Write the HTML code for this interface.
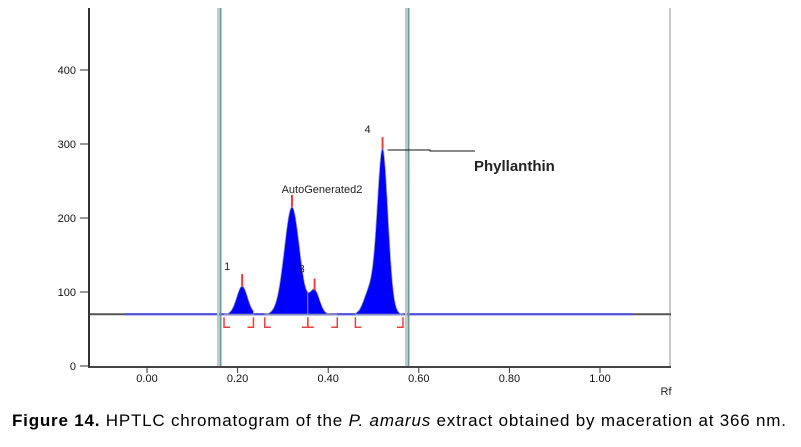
<!DOCTYPE html>
<html><head><meta charset="utf-8"><style>
body{margin:0;background:#fff;width:801px;height:442px;overflow:hidden;font-family:"Liberation Sans",sans-serif}
svg text{font-family:"Liberation Sans",sans-serif}
</style></head><body>
<svg id="c" width="801" height="442"></svg>
<script>
const peakRf=[0.21,0.32,0.37,0.52,0.49];
const peakHeight=[108,215,102,293,100];
const peakSigma=[0.012,0.017,0.011,0.012,0.012];
const peakLabels=["1","AutoGenerated2","3","4"];
const baselineValue=70;
const yTicks=[0,100,200,300,400];
const xTicks=[0,0.2,0.4,0.6,0.8,1.0];
const xTickLabels=["0.00","0.20","0.40","0.60","0.80","1.00"];
const markerRf=[0.16,0.575];
const peakStart=[0.17,0.26,0.355,0.46];
const peakEnd=[0.235,0.355,0.42,0.565];

const X=v=>147+v*453, Y=v=>366-v*0.74;
const svg=document.getElementById('c');const NS="http://www.w3.org/2000/svg";
function mk(t,a,txt){const e=document.createElementNS(NS,t);for(const k in a)e.setAttribute(k,a[k]);if(txt!=null)e.textContent=txt;svg.appendChild(e);return e;}

let e;
e=mk('line',{x1:670,y1:8,x2:670,y2:367,stroke:'#c8c8c8','stroke-width':2});


e=mk('line',{x1:89,y1:Y(baselineValue),x2:671,y2:Y(baselineValue),stroke:'#555','stroke-width':2});


e=mk('line',{x1:125,y1:Y(baselineValue),x2:633,y2:Y(baselineValue),stroke:'#5050e8','stroke-width':2});


for(let i=0;i<4;i++){
  let pts=[];
  for(let r=peakStart[i];r<=peakEnd[i]+1e-9;r+=0.001){
    let v=baselineValue;
    for(let j=0;j<peakRf.length;j++){const d=(r-peakRf[j])/peakSigma[j];v+=(peakHeight[j]-baselineValue)*Math.exp(-0.5*d*d);}
    pts.push(X(r).toFixed(1)+','+Y(v).toFixed(1));
  }
  pts.unshift(X(peakStart[i])+','+Y(baselineValue));
  pts.push(X(peakEnd[i])+','+Y(baselineValue));
  e=mk('polygon',{points:pts.join(' '),fill:'#0000ff',stroke:'#aaa','stroke-width':0.8});
  
  
  e=mk('line',{x1:X(peakRf[i]),y1:Y(peakHeight[i]),x2:X(peakRf[i]),y2:Y(peakHeight[i])-12,stroke:'#e84040','stroke-width':2});
  
  
  [peakStart[i],peakEnd[i]].forEach((r,k)=>{
    const x=X(r),y=Y(baselineValue);
    e=mk('path',{d:`M${x},${y+3}V${y+13}H${x+(k?-6:6)}`,stroke:'#e84040','stroke-width':1.5,fill:'none'});
    
    
  });
}
const lblPos=[[0,-18,-16,'start'],[1,30,-14,'middle'],[2,-16,-18,'start'],[3,-18,-16,'start']];
lblPos.forEach(([i,dx,dy,anc])=>{
  e=mk('text',{x:X(peakRf[i])+dx,y:Y(peakHeight[i])+dy,'font-size':11,fill:'#222','text-anchor':anc},peakLabels[i]);
  
  
});
markerRf.forEach((r,i)=>{
  const x=X(r);
  e=mk('line',{x1:x-1.5,y1:8,x2:x-1.5,y2:367,stroke:'#c0c8c8','stroke-width':2});
  
  
  e=mk('line',{x1:x+1,y1:8,x2:x+1,y2:367,stroke:'#6a9a98','stroke-width':2});
  
  
});
e=mk('line',{x1:89,y1:8,x2:89,y2:367,stroke:'#333','stroke-width':2});


e=mk('line',{x1:88,y1:367,x2:671,y2:367,stroke:'#444','stroke-width':2});


yTicks.forEach(t=>{
  e=mk('line',{x1:80,y1:Y(t),x2:89,y2:Y(t),stroke:'#333','stroke-width':1});
  
  
  e=mk('text',{x:76,y:Y(t)+4,'font-size':11,'text-anchor':'end',fill:'#111'},String(t));
  
  
});
xTicks.forEach((t,i)=>{
  e=mk('line',{x1:X(t),y1:367,x2:X(t),y2:373,stroke:'#333','stroke-width':1});
  
  
  e=mk('text',{x:X(t),y:382,'font-size':11,'text-anchor':'middle',fill:'#111'},xTickLabels[i]);
  
  
});
e=mk('text',{x:666,y:395,'font-size':11,fill:'#222','text-anchor':'middle'},'Rf');


e=mk('path',{d:`M${X(peakRf[3])+5},150H430V151H475`,stroke:'#111','stroke-width':1,fill:'none'});


e=mk('text',{x:474,y:171,'font-size':15,'font-weight':'bold',fill:'#222'},'Phyllanthin');


const cap=mk('text',{x:12,y:426,'font-size':17,fill:'#000',textLength:774,lengthAdjust:'spacing'});


cap.innerHTML='<tspan font-weight="bold">Figure 14.</tspan> HPTLC chromatogram of the <tspan font-style="italic">P. amarus</tspan> extract obtained by maceration at 366 nm.';
</script>
</body></html>
